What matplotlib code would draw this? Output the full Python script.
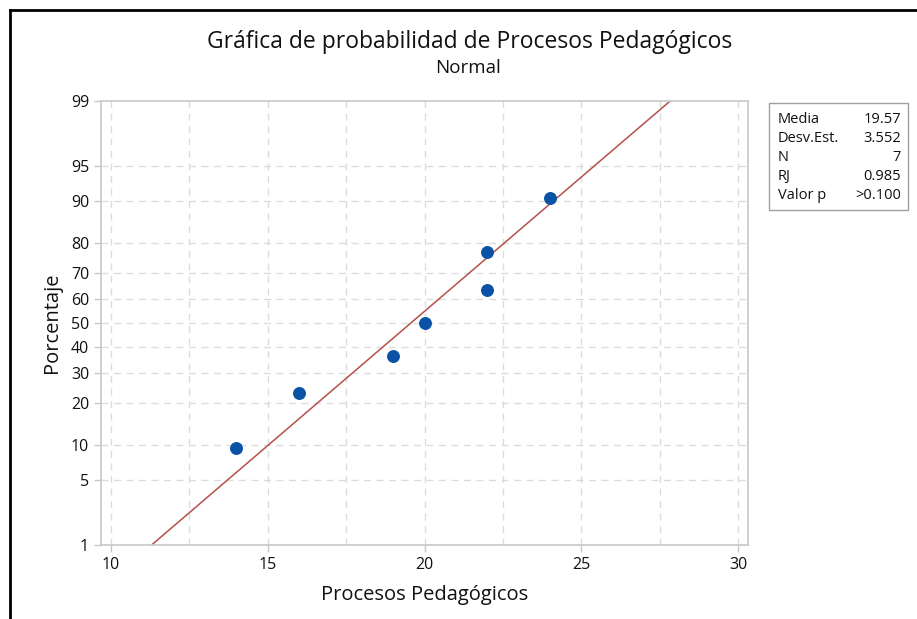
import numpy as np
import matplotlib
matplotlib.use("Agg")
import matplotlib.pyplot as plt
from matplotlib.lines import Line2D
from matplotlib.patches import Rectangle
from statistics import NormalDist

plt.rcParams['font.family'] = ['Open Sans', 'DejaVu Sans']

# datos
valores = [14, 16, 19, 20, 22, 22, 24]
porcentajes = [9.5, 23.0, 36.5, 50.0, 63.5, 77.0, 90.5]
media = 19.57
desv = 3.552
y_ticks = [1, 5, 10, 20, 30, 40, 50, 60, 70, 80, 90, 95, 99]
x_ticks = [10, 15, 20, 25, 30]
estad_nombres = ['Media', 'Desv.Est.', 'N', 'RJ', 'Valor p']
estad_valores = ['19.57', '3.552', '7', '0.985', '>0.100']

nd = NormalDist()
_ppf = np.vectorize(lambda v: nd.inv_cdf(v / 100.0), otypes=[float])
_cdf = np.vectorize(lambda v: nd.cdf(v) * 100.0, otypes=[float])

def fwd(p):
    p = np.clip(np.asarray(p, dtype=float), 1e-6, 100 - 1e-6)
    return _ppf(p)

def inv(z):
    return _cdf(np.asarray(z, dtype=float))

fig = plt.figure(figsize=(9.17, 6.19), dpi=100)
ax = fig.add_axes([0.110, 0.120, 0.706, 0.717])
ax.set_yscale('function', functions=(fwd, inv))

gris = '#c8c8c8'
texto = '#111111'
# grid
for x in np.arange(10, 30.1, 2.5):
    ax.axvline(x, color='#dcdcdc', lw=1, ls=(0, (5, 4)), zorder=0)
for y in y_ticks[1:-1]:
    ax.axhline(y, color='#dcdcdc', lw=1, ls=(0, (5, 4)), zorder=0)

# recta ajustada
p_lin = np.array([1.0, 99.0])
x_lin = media + desv * fwd(p_lin)
ax.plot(x_lin, p_lin, color='#b5504c', lw=1.1, zorder=2)

ax.plot(valores, porcentajes, 'o', color='#0a52a5', ms=8.3, zorder=3)

ax.set_xlim(9.68, 30.32)
ax.set_ylim(1, 99)
ax.set_xticks(x_ticks)
ax.set_yticks(y_ticks)
ax.set_yticklabels([str(t) for t in y_ticks])
ax.minorticks_off()
ax.tick_params(axis='both', colors=gris, labelcolor=texto, labelsize=11.5,
               length=5, width=1)
for s in ax.spines.values():
    s.set_color(gris)
    s.set_linewidth(1.2)

ax.set_xlabel('Procesos Pedagógicos', fontsize=14.5, color=texto, labelpad=9)
ax.set_ylabel('Porcentaje', fontsize=14.5, color=texto, labelpad=6)

fig.text(470 / 917, 1 - 42 / 619, 'Gráfica de probabilidad de Procesos Pedagógicos',
         ha='center', va='center', fontsize=16.5, color=texto)
fig.text(468 / 917, 1 - 68 / 619, 'Normal', ha='center', va='center',
         fontsize=13.5, color=texto)

# cuadro de estadisticas
fig.patches.append(Rectangle((769 / 917, 1 - 210 / 619), 139 / 917, 107 / 619,
                             transform=fig.transFigure, fill=False,
                             edgecolor='#a0a0a0', lw=1))
for i, (n, v) in enumerate(zip(estad_nombres, estad_valores)):
    yy = 1 - (119 + i * 19.2) / 619
    fig.text(778 / 917, yy, n, ha='left', va='center', fontsize=10.5, color=texto)
    fig.text(901 / 917, yy, v, ha='right', va='center', fontsize=10.5, color=texto)

# marco negro
fig.add_artist(Line2D([10 / 917, 1], [1 - 10 / 619, 1 - 10 / 619],
                      transform=fig.transFigure, color='black', lw=2))
fig.add_artist(Line2D([10 / 917, 10 / 917], [0, 1 - 10 / 619],
                      transform=fig.transFigure, color='black', lw=2))

fig.savefig('out.png', dpi=100)
